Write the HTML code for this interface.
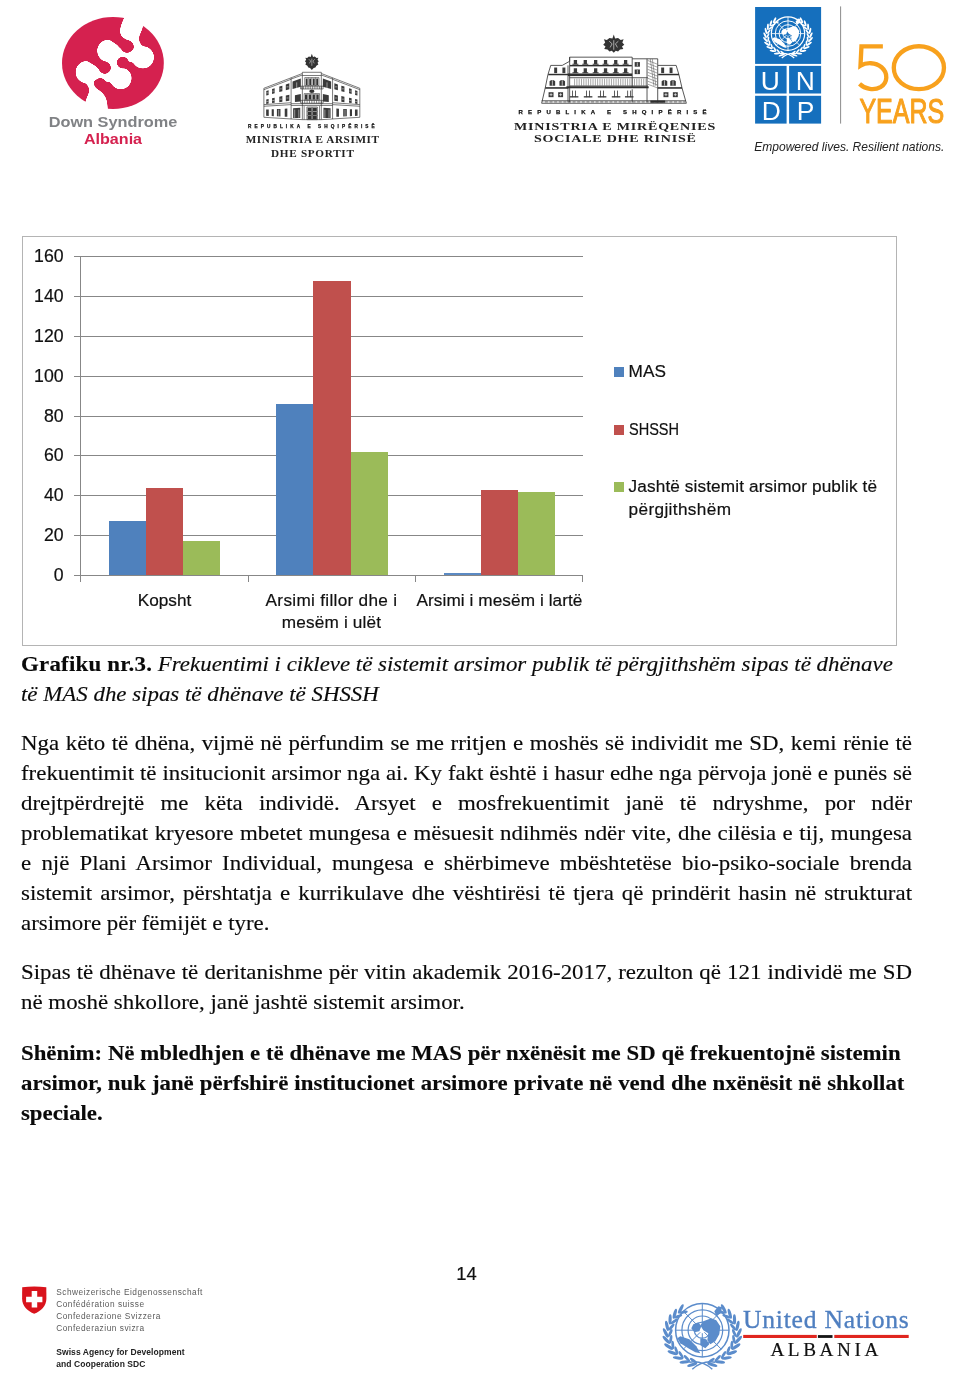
<!DOCTYPE html>
<html>
<head>
<meta charset="utf-8">
<title>Page 14</title>
<style>
html,body{margin:0;padding:0;background:#fff;}
body{will-change:transform;width:971px;height:1379px;position:relative;overflow:hidden;font-family:"Liberation Serif",serif;color:#000;}
.abs{position:absolute;}
/* body text lines */
.ln{position:absolute;left:21.2px;-webkit-text-stroke:0.15px #111;width:848.6px;height:30px;line-height:30px;font-size:21.8px;white-space:nowrap;text-align:justify;text-align-last:justify;color:#0a0a0a;transform:scaleX(1.05);transform-origin:0 0;}
.ln.last{text-align:left;text-align-last:left;}
.b{font-weight:bold;}
.ln.b{transform:scaleX(1.046);text-align:left;text-align-last:left;}
.i{font-style:italic;}
/* chart */
#chart{position:absolute;left:21.7px;top:235.6px;width:873.5px;height:408.7px;border:1px solid #b4b4b4;background:#fff;}
.grid{position:absolute;left:74px;width:509.4px;height:1.1px;background:#878787;}
.ylab{position:absolute;left:20px;width:43.6px;text-align:right;font-family:"Liberation Sans",sans-serif;font-size:17.7px;-webkit-text-stroke:0.2px #111;line-height:20px;height:20px;color:#111;}
.bar{position:absolute;}
.xlab{position:absolute;-webkit-text-stroke:0.2px #111;font-family:"Liberation Sans",sans-serif;font-size:17.2px;line-height:23px;text-align:center;color:#111;white-space:nowrap;}
.leg{position:absolute;-webkit-text-stroke:0.2px #111;font-family:"Liberation Sans",sans-serif;font-size:17.2px;line-height:23px;color:#111;white-space:nowrap;}
.sw{position:absolute;width:10.2px;height:10.2px;}
</style>
</head>
<body>

<!-- HEADER LOGOS -->
<!-- Down Syndrome Albania logo -->
<svg class="abs" style="left:55px;top:10px" width="115" height="105" viewBox="0 0 971 887">
  <defs>
    <filter id="goo" x="-5%" y="-5%" width="110%" height="110%" color-interpolation-filters="sRGB">
      <feGaussianBlur stdDeviation="11"/>
      <feColorMatrix type="matrix" values="0 0 0 0 1  0 0 0 0 1  0 0 0 0 1  0 0 0 7 -3"/>
    </filter>
    <mask id="dsm" maskUnits="userSpaceOnUse" x="0" y="0" width="971" height="887">
      <g fill="#fff" stroke="none">
        <circle cx="450" cy="345" r="94"/>
        <circle cx="742" cy="400" r="94"/>
        <circle cx="555" cy="577" r="92"/>
        <circle cx="268" cy="525" r="94"/>
        <path d="M612 0 C570 100 540 150 552 200 C562 240 610 250 650 275 C670 290 668 330 660 360 L780 330 C715 300 695 250 720 200 C735 170 742 150 744 125 L760 0 Z"/>
        <path d="M445 887 C448 800 440 760 420 725 C400 690 365 675 340 650 C320 620 325 590 330 560 L200 580 C265 610 300 650 285 700 C275 730 262 750 256 780 L230 887 Z"/>
      </g>
      <g stroke="#fff" stroke-width="110" stroke-linecap="round" fill="none">
        <path d="M742 395 L450 365"/>
        <path d="M462 350 L545 570"/>
        <path d="M555 565 L268 535"/>
      </g>
      <g fill="#000" stroke="#000" stroke-linecap="round">
        <circle cx="608" cy="308" r="54"/>
        <circle cx="572" cy="444" r="50"/>
        <circle cx="420" cy="488" r="52"/>
        <circle cx="382" cy="624" r="50"/>
        <path d="M608 308 L470 215" stroke-width="70"/>
        <path d="M572 444 L690 520" stroke-width="56"/>
        <path d="M420 488 L300 415" stroke-width="56"/>
        <path d="M382 624 L510 715" stroke-width="70"/>
      </g>
    </mask>
  </defs>
  <ellipse cx="489" cy="448" rx="430" ry="388" fill="#d5214f"/>
  <g filter="url(#goo)"><rect x="0" y="0" width="971" height="887" fill="#fff" mask="url(#dsm)"/></g>
</svg>
<div class="abs" style="left:32.8px;top:112.4px;width:160px;text-align:center;font-family:'Liberation Sans',sans-serif;font-weight:bold;font-size:14px;line-height:20px;color:#808285;white-space:nowrap;transform:scaleX(1.165)">Down Syndrome</div>
<div class="abs" style="left:33px;top:128.9px;width:160px;text-align:center;font-family:'Liberation Sans',sans-serif;font-weight:bold;font-size:14px;line-height:20px;color:#d5214f;white-space:nowrap;transform:scaleX(1.15)">Albania</div>

<!-- MAS logo -->
<!--MAS_SVG-->
<svg class="abs" style="left:255px;top:48px" width="115" height="77" viewBox="0 0 971 650">
<g fill="none" stroke="#333" stroke-width="5.5" stroke-linejoin="miter">
<path d="M75 340 L400 215 V205 H560 V215 L885 340 V585 L560 605 H400 L75 585 Z"/>
<path d="M305 252 V600 M400 215 V605 M560 215 V605 M655 252 V600"/>
<path d="M75 478 L305 462 M75 492 L305 478 M655 462 L885 478 M655 478 L885 492"/>
<path d="M75 352 L305 264 M655 264 L885 352"/>
<path d="M305 262 L400 228 M560 228 L655 262 M400 232 H560"/>
<path d="M305 470 H655 M305 485 H655"/>
</g>
<g fill="#3a3a3a" stroke="none">
<path d="M95 363 L115 356 L115 396 L95 401 Z"/>
<path d="M865 363 L845 356 L845 396 L865 401 Z"/>
<path d="M95 434 L115 430 L115 469 L95 472 Z"/>
<path d="M865 434 L845 430 L845 469 L865 472 Z"/>
<path d="M144 347 L166 339 L166 382 L144 388 Z"/>
<path d="M816 347 L794 339 L794 382 L816 388 Z"/>
<path d="M144 424 L166 419 L166 462 L144 465 Z"/>
<path d="M816 424 L794 419 L794 462 L816 465 Z"/>
<path d="M205 326 L231 318 L231 365 L205 372 Z"/>
<path d="M755 326 L729 318 L729 365 L755 372 Z"/>
<path d="M205 411 L231 406 L231 453 L205 457 Z"/>
<path d="M755 411 L729 406 L729 453 L755 457 Z"/>
<path d="M260 308 L290 298 L290 349 L260 357 Z"/>
<path d="M700 308 L670 298 L670 349 L700 357 Z"/>
<path d="M260 400 L290 394 L290 445 L260 449 Z"/>
<path d="M700 400 L670 394 L670 445 L700 449 Z"/>
<path d="M94 520 L116 519 L116 574 L94 573 Z"/>
<path d="M866 520 L844 519 L844 574 L866 573 Z"/>
<path d="M141 518 L159 517 L159 576 L141 575 Z"/>
<path d="M819 518 L801 517 L801 576 L819 575 Z"/>
<path d="M185 515 L215 514 L215 578 L185 577 Z"/>
<path d="M775 515 L745 514 L745 578 L775 577 Z"/>
<path d="M251 512 L273 511 L273 581 L251 580 Z"/>
<path d="M709 512 L687 511 L687 581 L709 580 Z"/>
<path d="M317 282 L387 258 L387 328 L317 346 Z"/>
<path d="M643 282 L573 258 L573 328 L643 346 Z"/>
<path d="M337 398 L387 389 L387 451 L337 456 Z"/>
<path d="M623 398 L573 389 L573 451 L623 456 Z"/>
<path d="M322 508 L382 505 L382 592 L322 590 Z"/>
<path d="M638 508 L578 505 L578 592 L638 590 Z"/>
</g>
<g stroke="#fff" stroke-width="4" fill="none">
<path d="M96 379 H114 M846 379 H864"/>
<path d="M96 451 H114 M846 451 H864"/>
<path d="M146 364 H164 M796 364 H814"/>
<path d="M146 443 H164 M796 443 H814"/>
<path d="M209 345 H227 M733 345 H751"/>
<path d="M209 432 H227 M733 432 H751"/>
<path d="M266 328 H284 M676 328 H694"/>
<path d="M266 422 H284 M676 422 H694"/>
<path d="M352 290 V340 M608 290 V340 M335 520 V590 M370 520 V590 M590 520 V590 M625 520 V590 M200 520 V580 M760 520 V580"/>
</g>
<g fill="none" stroke="#333" stroke-width="5">
<path d="M420 250 H540 V318 H420 Z M450 250 V318 M480 250 V318 M510 250 V318"/>
<path d="M385 322 H575 V346 H385 Z"/>
<path d="M395 322 V346 M410 322 V346 M425 322 V346 M440 322 V346 M455 322 V346 M470 322 V346 M485 322 V346 M500 322 V346 M515 322 V346 M530 322 V346 M545 322 V346 M560 322 V346"/>
<path d="M415 385 H545 V440 H415 Z M447 385 V440 M480 385 V440 M513 385 V440"/>
<path d="M385 442 H575 V466 H385 Z M400 442 V466 M420 442 V466 M440 442 V466 M460 442 V466 M480 442 V466 M500 442 V466 M520 442 V466 M540 442 V466 M560 442 V466"/>
<path d="M438 498 H527 V605 H438 Z M482 498 V605 M438 535 H527 M438 570 H527"/>
<path d="M415 490 V605 M545 490 V605"/>
</g>
<g fill="#333"><rect x="428" y="258" width="16" height="56"/><rect x="458" y="258" width="16" height="56"/><rect x="488" y="258" width="16" height="56"/><rect x="517" y="258" width="16" height="56"/>
<rect x="422" y="392" width="20" height="44"/><rect x="454" y="392" width="20" height="44"/><rect x="486" y="392" width="20" height="44"/><rect x="518" y="392" width="20" height="44"/>
<rect x="444" y="504" width="34" height="28"/><rect x="486" y="504" width="36" height="28"/><rect x="444" y="540" width="34" height="27"/><rect x="486" y="540" width="36" height="27"/><rect x="444" y="574" width="34" height="28"/><rect x="486" y="574" width="36" height="28"/>
<ellipse cx="480" cy="365" rx="22" ry="14"/>
</g>
<g fill="#333">
<path d="M480 48 L470 75 L455 72 L440 85 L425 82 L432 100 L422 112 L432 125 L425 140 L442 150 L450 165 L465 168 L480 185 L495 168 L510 165 L518 150 L535 140 L528 125 L538 112 L528 100 L535 82 L520 85 L505 72 L490 75 Z"/>
</g>
<g stroke="#fff" stroke-width="4" fill="none"><path d="M455 95 L470 110 L460 130 M505 95 L490 110 L500 130 M480 90 V150"/></g>
</svg>
<!--/MAS_SVG-->
<div class="abs" style="left:248px;top:121.5px;font-family:'Liberation Sans',sans-serif;font-weight:bold;font-size:4.7px;line-height:10px;letter-spacing:3.1px;color:#111;-webkit-text-stroke:0.25px #111;white-space:nowrap">REPUBLIKA E SHQIPËRISË</div>
<div class="abs" style="left:245.7px;top:131.4px;font-family:'Liberation Serif',serif;font-weight:bold;font-size:11.2px;line-height:16px;letter-spacing:0.6px;color:#222;white-space:nowrap">MINISTRIA E ARSIMIT</div>
<div class="abs" style="left:271px;top:144.6px;font-family:'Liberation Serif',serif;font-weight:bold;font-size:11.2px;line-height:16px;letter-spacing:0.71px;color:#222;white-space:nowrap">DHE SPORTIT</div>

<!-- MMSR logo -->
<!--MMSR_SVG-->
<svg class="abs" style="left:535px;top:30px" width="160" height="80" viewBox="0 0 971 486">
<g fill="none" stroke="#333" stroke-width="5">
<path d="M40 445 L62 350 L78 272 L95 215 L165 215 L210 190 V165 H590 V175 H745 V215 L857 215 L874 272 L892 350 L919 445 Z"/>
<path d="M210 165 V440 M590 175 V350 M680 175 V440 M745 215 V440 M200 215 V440 M590 360 V440"/>
<path d="M40 430 H915 M210 290 H685 M210 340 H685 M62 352 H200 M745 352 H892"/>
</g>
<g fill="#2e2e2e">
<rect x="212" y="212" width="376" height="9"/>
<rect x="200" y="264" width="390" height="16"/>
<rect x="80" y="266" width="122" height="9"/>
<rect x="748" y="266" width="126" height="9"/>
<rect x="190" y="342" width="500" height="12"/>
<rect x="62" y="348" width="140" height="8"/>
<rect x="745" y="348" width="148" height="8"/>
<rect x="700" y="428" width="90" height="14"/>
</g>
<g fill="#3a3a3a">
<path d="M235 182 H255 V208 H235 Z M227 205 H263 V211 H227 Z"/>
<path d="M235 232 H255 V258 H235 Z M227 256 H263 V263 H227 Z"/>
<path d="M295 182 H315 V208 H295 Z M287 205 H323 V211 H287 Z"/>
<path d="M295 232 H315 V258 H295 Z M287 256 H323 V263 H287 Z"/>
<path d="M358 182 H378 V208 H358 Z M350 205 H386 V211 H350 Z"/>
<path d="M358 232 H378 V258 H358 Z M350 256 H386 V263 H350 Z"/>
<path d="M418 182 H438 V208 H418 Z M410 205 H446 V211 H410 Z"/>
<path d="M418 232 H438 V258 H418 Z M410 256 H446 V263 H410 Z"/>
<path d="M480 182 H500 V208 H480 Z M472 205 H508 V211 H472 Z"/>
<path d="M480 232 H500 V258 H480 Z M472 256 H508 V263 H472 Z"/>
<path d="M540 182 H560 V208 H540 Z M532 205 H568 V211 H532 Z"/>
<path d="M540 232 H560 V258 H540 Z M532 256 H568 V263 H532 Z"/>
<path d="M116 228 H134 V262 H116 Z"/>
<path d="M166 228 H184 V262 H166 Z"/>
<path d="M766 228 H784 V262 H766 Z"/>
<path d="M817 228 H835 V262 H817 Z"/>
<path d="M88 338 V312 Q105 296 122 312 V338 Z"/>
<path d="M148 338 V312 Q165 296 182 312 V338 Z"/>
<path d="M769 338 V312 Q786 296 803 312 V338 Z"/>
<path d="M821 338 V312 Q838 296 855 312 V338 Z"/>
<rect x="82" y="378" width="30" height="30"/>
<rect x="140" y="378" width="30" height="30"/>
<rect x="780" y="378" width="30" height="30"/>
<rect x="837" y="378" width="30" height="30"/>
<rect x="605" y="195" width="32" height="28"/><rect x="605" y="240" width="32" height="28"/>
<rect x="225" y="368" width="5" height="40"/><rect x="243" y="368" width="5" height="40"/><rect x="211" y="402" width="52" height="8"/>
<rect x="310" y="368" width="5" height="40"/><rect x="328" y="368" width="5" height="40"/><rect x="296" y="402" width="52" height="8"/>
<rect x="395" y="368" width="5" height="40"/><rect x="413" y="368" width="5" height="40"/><rect x="381" y="402" width="52" height="8"/>
<rect x="480" y="368" width="5" height="40"/><rect x="498" y="368" width="5" height="40"/><rect x="466" y="402" width="52" height="8"/>
<rect x="560" y="368" width="5" height="40"/><rect x="578" y="368" width="5" height="40"/><rect x="546" y="402" width="52" height="8"/>
</g>
<g stroke="#fff" stroke-width="4" fill="none">
<path d="M105 305 V338"/>
<path d="M165 305 V338"/>
<path d="M786 305 V338"/>
<path d="M838 305 V338"/>
<path d="M97 384 V402 M88 393 H106"/>
<path d="M155 384 V402 M146 393 H164"/>
<path d="M795 384 V402 M786 393 H804"/>
<path d="M852 384 V402 M843 393 H861"/>
<path d="M621 198 V220 M621 243 V265"/>
</g>
<g stroke="#555" stroke-width="3.2" fill="none"><path d="
M240 296 V338 M254 296 V338 M268 296 V338 M282 296 V338 M296 296 V338 M310 296 V338 M324 296 V338 M338 296 V338 M352 296 V338 M366 296 V338 M380 296 V338 M394 296 V338 M408 296 V338 M422 296 V338 M436 296 V338 M450 296 V338 M464 296 V338 M478 296 V338 M492 296 V338 M506 296 V338 M520 296 V338 M534 296 V338 M548 296 V338 M562 296 V338 M576 296 V338 M590 296 V338 M604 296 V338 M618 296 V338 M632 296 V338 M646 296 V338 M660 296 V338 M674 296 V338"/>
<path d="M684 185 L741 207 M684 203 L741 225 M684 221 L741 243 M684 239 L741 261 M684 257 L741 279 M684 275 L741 297 M684 293 L741 315 M684 311 L741 333 M684 329 L741 351"/>
<path d="M700 175 L722 340 M712 175 L734 340"/></g>
<g stroke="#333" stroke-width="4"><path d="M60 437 H912" stroke-dasharray="18 10"/></g>
<g fill="#333"><path d="M478 28 L470 52 L452 48 L436 60 L418 56 L426 76 L414 90 L428 100 L420 116 L440 118 L452 130 L466 126 L478 138 L490 126 L504 130 L516 118 L536 116 L528 100 L542 90 L530 76 L538 56 L520 60 L504 48 L486 52 Z"/></g>
<g stroke="#fff" stroke-width="3.5" fill="none"><path d="M450 68 L468 84 L456 106 M506 68 L488 84 L500 106 M478 62 V120"/></g>
</svg>
<!--/MMSR_SVG-->
<div class="abs" style="left:518.5px;top:106.9px;font-family:'Liberation Sans',sans-serif;font-weight:bold;font-size:6px;line-height:10px;letter-spacing:5.2px;color:#111;-webkit-text-stroke:0.25px #111;white-space:nowrap">REPUBLIKA E SHQIPËRISË</div>
<div class="abs" style="left:514.2px;top:118px;font-family:'Liberation Serif',serif;font-weight:bold;font-size:10.8px;line-height:16px;letter-spacing:0.63px;color:#222;white-space:nowrap;transform:scaleX(1.3);transform-origin:0 0">MINISTRIA E MIRËQENIES</div>
<div class="abs" style="left:534.3px;top:129.9px;font-family:'Liberation Serif',serif;font-weight:bold;font-size:10.8px;line-height:16px;letter-spacing:0.58px;color:#222;white-space:nowrap;transform:scaleX(1.3);transform-origin:0 0">SOCIALE DHE RINISË</div>

<!-- UNDP logo -->
<!--UNDP_SVG-->
<svg class="abs" style="left:750px;top:0px" width="210" height="160" viewBox="0 0 210 160">
<rect x="5.1" y="7" width="66" height="56.9" fill="#156fbd"/>
<rect x="5.1" y="65.9" width="31.5" height="27.6" fill="#156fbd"/>
<rect x="39.1" y="65.9" width="32" height="27.6" fill="#156fbd"/>
<rect x="5.1" y="95.8" width="31.5" height="27.8" fill="#156fbd"/>
<rect x="39.1" y="95.8" width="32" height="27.8" fill="#156fbd"/>
<g fill="#fff" font-family="Liberation Sans, sans-serif" font-size="26.4" text-anchor="middle">
<text x="20.4" y="90.1">U</text><text x="55.4" y="90.1">N</text><text x="21.2" y="119.6">D</text><text x="55.6" y="119.6">P</text>
</g>
<g transform="translate(38.00 33.60) scale(0.6250)">
<g fill="none" stroke="#fff">
<circle cx="0" cy="0" r="26.7" stroke-width="1.95"/>
<circle cx="0" cy="0" r="20.4" stroke-width="1.56"/>
<circle cx="0" cy="0" r="14.2" stroke-width="1.56"/>
<circle cx="0" cy="0" r="8.0" stroke-width="1.56"/>
<path d="M3.0 0.0 L26.7 0.0 M2.1 2.1 L18.9 18.9 M0.0 3.0 L0.0 26.7 M-2.1 2.1 L-18.9 18.9 M-3.0 0.0 L-26.7 0.0 M-2.1 -2.1 L-18.9 -18.9 M-0.0 -3.0 L-0.0 -26.7 M2.1 -2.1 L18.9 -18.9" stroke-width="1.30"/>
</g>
<g fill="#fff">
<path d="M1 -9 l8 -3 l5 2 l4 6 l-1 8 l-4 7 l-5 3 l-3 -4 l1 -7 l-5 -3 l-3 -5 z"/>
<path d="M-22 6 l9 3 l7 7 l4 7 l-5 -1 l-7 -4 l-8 -5 l-3 -5 z"/>
<path d="M-9 -6 l5 -2 l3 4 l-2 5 l-5 1 l-3 -4 z"/>
<path d="M12 -19 l4 -5 l4 1 l-2 6 l-4 3 z"/>
<path d="M-2 8 l6 1 l3 5 l-4 4 l-5 -3 z"/>
</g>
<g fill="#fff">
<ellipse cx="-10.1" cy="34.5" rx="5.2" ry="1.6" transform="rotate(-196 -10.1 34.5)"/>
<ellipse cx="-8.8" cy="30.5" rx="4.3" ry="1.4" transform="rotate(-144 -8.8 30.5)"/>
<ellipse cx="-17.6" cy="31.8" rx="5.2" ry="1.6" transform="rotate(-185 -17.6 31.8)"/>
<ellipse cx="-15.4" cy="28.2" rx="4.3" ry="1.4" transform="rotate(-133 -15.4 28.2)"/>
<ellipse cx="-24.3" cy="27.8" rx="5.2" ry="1.6" transform="rotate(-173 -24.3 27.8)"/>
<ellipse cx="-21.2" cy="24.7" rx="4.3" ry="1.4" transform="rotate(-121 -21.2 24.7)"/>
<ellipse cx="-29.8" cy="22.5" rx="5.2" ry="1.6" transform="rotate(-160 -29.8 22.5)"/>
<ellipse cx="-26.0" cy="20.2" rx="4.3" ry="1.4" transform="rotate(-108 -26.0 20.2)"/>
<ellipse cx="-33.7" cy="16.4" rx="5.2" ry="1.6" transform="rotate(-146 -33.7 16.4)"/>
<ellipse cx="-29.5" cy="14.8" rx="4.3" ry="1.4" transform="rotate(-94 -29.5 14.8)"/>
<ellipse cx="-36.0" cy="9.7" rx="5.2" ry="1.6" transform="rotate(-132 -36.0 9.7)"/>
<ellipse cx="-31.5" cy="9.0" rx="4.3" ry="1.4" transform="rotate(-80 -31.5 9.0)"/>
<ellipse cx="-36.6" cy="2.7" rx="5.2" ry="1.6" transform="rotate(-117 -36.6 2.7)"/>
<ellipse cx="-32.0" cy="2.9" rx="4.3" ry="1.4" transform="rotate(-65 -32.0 2.9)"/>
<ellipse cx="-35.3" cy="-4.3" rx="5.2" ry="1.6" transform="rotate(-102 -35.3 -4.3)"/>
<ellipse cx="-30.8" cy="-3.2" rx="4.3" ry="1.4" transform="rotate(-50 -30.8 -3.2)"/>
<ellipse cx="-32.2" cy="-10.8" rx="5.2" ry="1.6" transform="rotate(-88 -32.2 -10.8)"/>
<ellipse cx="-28.1" cy="-8.8" rx="4.3" ry="1.4" transform="rotate(-36 -28.1 -8.8)"/>
<ellipse cx="-27.5" cy="-16.5" rx="5.2" ry="1.6" transform="rotate(-74 -27.5 -16.5)"/>
<ellipse cx="-24.1" cy="-13.8" rx="4.3" ry="1.4" transform="rotate(-22 -24.1 -13.8)"/>
<ellipse cx="-21.5" cy="-21.3" rx="5.2" ry="1.6" transform="rotate(-62 -21.5 -21.3)"/>
<ellipse cx="-18.8" cy="-18.0" rx="4.3" ry="1.4" transform="rotate(-10 -18.8 -18.0)"/>
<ellipse cx="10.1" cy="34.5" rx="5.2" ry="1.6" transform="rotate(16 10.1 34.5)"/>
<ellipse cx="8.8" cy="30.5" rx="4.3" ry="1.4" transform="rotate(-36 8.8 30.5)"/>
<ellipse cx="17.6" cy="31.8" rx="5.2" ry="1.6" transform="rotate(5 17.6 31.8)"/>
<ellipse cx="15.4" cy="28.2" rx="4.3" ry="1.4" transform="rotate(-47 15.4 28.2)"/>
<ellipse cx="24.3" cy="27.8" rx="5.2" ry="1.6" transform="rotate(-7 24.3 27.8)"/>
<ellipse cx="21.2" cy="24.7" rx="4.3" ry="1.4" transform="rotate(-59 21.2 24.7)"/>
<ellipse cx="29.8" cy="22.5" rx="5.2" ry="1.6" transform="rotate(-20 29.8 22.5)"/>
<ellipse cx="26.0" cy="20.2" rx="4.3" ry="1.4" transform="rotate(-72 26.0 20.2)"/>
<ellipse cx="33.7" cy="16.4" rx="5.2" ry="1.6" transform="rotate(-34 33.7 16.4)"/>
<ellipse cx="29.5" cy="14.8" rx="4.3" ry="1.4" transform="rotate(-86 29.5 14.8)"/>
<ellipse cx="36.0" cy="9.7" rx="5.2" ry="1.6" transform="rotate(-48 36.0 9.7)"/>
<ellipse cx="31.5" cy="9.0" rx="4.3" ry="1.4" transform="rotate(-100 31.5 9.0)"/>
<ellipse cx="36.6" cy="2.7" rx="5.2" ry="1.6" transform="rotate(-63 36.6 2.7)"/>
<ellipse cx="32.0" cy="2.9" rx="4.3" ry="1.4" transform="rotate(-115 32.0 2.9)"/>
<ellipse cx="35.3" cy="-4.3" rx="5.2" ry="1.6" transform="rotate(-78 35.3 -4.3)"/>
<ellipse cx="30.8" cy="-3.2" rx="4.3" ry="1.4" transform="rotate(-130 30.8 -3.2)"/>
<ellipse cx="32.2" cy="-10.8" rx="5.2" ry="1.6" transform="rotate(-92 32.2 -10.8)"/>
<ellipse cx="28.1" cy="-8.8" rx="4.3" ry="1.4" transform="rotate(-144 28.1 -8.8)"/>
<ellipse cx="27.5" cy="-16.5" rx="5.2" ry="1.6" transform="rotate(-106 27.5 -16.5)"/>
<ellipse cx="24.1" cy="-13.8" rx="4.3" ry="1.4" transform="rotate(-158 24.1 -13.8)"/>
<ellipse cx="21.5" cy="-21.3" rx="5.2" ry="1.6" transform="rotate(-118 21.5 -21.3)"/>
<ellipse cx="18.8" cy="-18.0" rx="4.3" ry="1.4" transform="rotate(-170 18.8 -18.0)"/>
</g>
<g fill="none" stroke="#fff" stroke-width="1.95"><path d="M-13 32 Q0 30 10 39 M13 32 Q0 30 -10 39"/></g>
</g>
<rect x="90.1" y="6.4" width="1" height="117.2" fill="#8c8c8c"/>
<g transform="translate(100,35) scale(0.10813)" fill="none" stroke="#f8a11d" stroke-width="40" stroke-linejoin="miter">
<path d="M304 105 H106 L97 284 C150 252 235 250 292 298 C352 350 352 440 282 482 C222 516 140 502 88 452"/>
<ellipse cx="637" cy="302" rx="232" ry="198"/>
</g>
<text x="0" y="0" transform="translate(109.4,122.6) scale(0.728,1)" font-family="Liberation Sans, sans-serif" font-size="34.4" fill="#f8a11d" stroke="#f8a11d" stroke-width="1.1" stroke-linejoin="round">YEARS</text>
<text x="4.2" y="151.4" font-family="Liberation Sans, sans-serif" font-style="italic" font-size="12.05" fill="#222">Empowered lives. Resilient nations.</text>
</svg>
<!--/UNDP_SVG-->

<!-- CHART -->
<div id="chart"></div>
<!-- gridlines (page coords) -->
<div class="grid" style="top:256.4px"></div>
<div class="grid" style="top:296.2px"></div>
<div class="grid" style="top:335.9px"></div>
<div class="grid" style="top:375.7px"></div>
<div class="grid" style="top:415.5px"></div>
<div class="grid" style="top:455.2px"></div>
<div class="grid" style="top:495.0px"></div>
<div class="grid" style="top:534.7px"></div>
<div class="grid" style="top:574.5px"></div>
<!-- y axis -->
<div class="abs" style="left:80.3px;top:256.4px;width:1.1px;height:325.6px;background:#878787"></div>
<!-- x ticks -->
<div class="abs" style="left:247.7px;top:575px;width:1.1px;height:7px;background:#878787"></div>
<div class="abs" style="left:415.3px;top:575px;width:1.1px;height:7px;background:#878787"></div>
<div class="abs" style="left:582.3px;top:575px;width:1.1px;height:7px;background:#878787"></div>
<!-- y labels -->
<div class="ylab" style="top:246px">160</div>
<div class="ylab" style="top:286px">140</div>
<div class="ylab" style="top:326px">120</div>
<div class="ylab" style="top:366px">100</div>
<div class="ylab" style="top:406px">80</div>
<div class="ylab" style="top:445px">60</div>
<div class="ylab" style="top:485px">40</div>
<div class="ylab" style="top:525px">20</div>
<div class="ylab" style="top:565px">0</div>
<!-- bars -->
<div class="bar" style="left:108.7px;top:521.4px;width:37.1px;height:53.6px;background:#4f81bd"></div>
<div class="bar" style="left:145.8px;top:487.6px;width:37.1px;height:87.4px;background:#c0504d"></div>
<div class="bar" style="left:182.9px;top:541.2px;width:37.1px;height:33.8px;background:#9bbb59"></div>

<div class="bar" style="left:276.2px;top:404px;width:37.2px;height:171px;background:#4f81bd"></div>
<div class="bar" style="left:313.4px;top:280.8px;width:37.3px;height:294.2px;background:#c0504d"></div>
<div class="bar" style="left:350.7px;top:451.8px;width:37.2px;height:123.2px;background:#9bbb59"></div>

<div class="bar" style="left:444.3px;top:573.4px;width:36.6px;height:1.6px;background:#5b8ac3"></div>
<div class="bar" style="left:480.8px;top:489.6px;width:37px;height:85.4px;background:#c0504d"></div>
<div class="bar" style="left:517.8px;top:491.6px;width:37.1px;height:83.4px;background:#9bbb59"></div>
<!-- x labels -->
<div class="xlab" style="left:81px;width:167px;top:589px">Kopsht</div>
<div class="xlab" style="left:248px;width:167px;top:589px;letter-spacing:0.3px">Arsimi fillor dhe i</div>
<div class="xlab" style="left:248px;width:167px;top:611.3px;letter-spacing:0.18px">mesëm i ulët</div>
<div class="xlab" style="left:416px;width:167px;top:589px;letter-spacing:0.08px">Arsimi i mesëm i lartë</div>
<!-- legend -->
<div class="sw" style="left:613.5px;top:367.1px;background:#4f81bd"></div>
<div class="leg" style="left:628.6px;top:360.4px">MAS</div>
<div class="sw" style="left:613.5px;top:424.7px;background:#c0504d"></div>
<div class="leg" style="left:628.6px;top:417.6px;transform:scaleX(0.845);transform-origin:0 0">SHSSH</div>
<div class="sw" style="left:613.5px;top:481.8px;background:#9bbb59"></div>
<div class="leg" style="left:628.6px;top:475px;letter-spacing:0.12px">Jashtë sistemit arsimor publik të</div>
<div class="leg" style="left:628.6px;top:498px;letter-spacing:0.36px">përgjithshëm</div>

<!-- CAPTION -->
<div class="ln last" style="top:648.5px"><span class="b" style="letter-spacing:0.21px">Grafiku nr.3.</span> <span class="i">Frekuentimi i cikleve të sistemit arsimor publik të përgjithshëm sipas të dhënave</span></div>
<div class="ln last i" style="top:678.9px">të MAS dhe sipas të dhënave të SHSSH</div>

<!-- PARAGRAPH 1 -->
<div class="ln" style="top:727.5px">Nga këto të dhëna, vijmë në përfundim se me rritjen e moshës së individit me SD, kemi rënie të</div>
<div class="ln" style="top:757.6px">frekuentimit të insitucionit arsimor nga ai. Ky fakt është i hasur edhe nga përvoja jonë e punës së</div>
<div class="ln" style="top:787.8px">drejtpërdrejtë me këta individë. Arsyet e mosfrekuentimit janë të ndryshme, por ndër</div>
<div class="ln" style="top:817.9px">problematikat kryesore mbetet mungesa e mësuesit ndihmës ndër vite, dhe cilësia e tij, mungesa</div>
<div class="ln" style="top:848.1px">e një Plani Arsimor Individual, mungesa e shërbimeve mbështetëse bio-psiko-sociale brenda</div>
<div class="ln" style="top:878.2px">sistemit arsimor, përshtatja e kurrikulave dhe vështirësi të tjera që prindërit hasin në strukturat</div>
<div class="ln last" style="top:908.3px">arsimore për fëmijët e tyre.</div>

<!-- PARAGRAPH 2 -->
<div class="ln" style="top:957.3px">Sipas të dhënave të deritanishme për vitin akademik 2016-2017, rezulton që 121 individë me SD</div>
<div class="ln last" style="top:987.4px">në moshë shkollore, janë jashtë sistemit arsimor.</div>

<!-- PARAGRAPH 3 -->
<div class="ln b" style="top:1038.0px;word-spacing:0.1px">Shënim: Në mbledhjen e të dhënave me MAS për nxënësit me SD që frekuentojnë sistemin</div>
<div class="ln b" style="top:1067.8px;word-spacing:0.3px">arsimor, nuk janë përfshirë institucionet arsimore private në vend dhe nxënësit në shkollat</div>
<div class="ln last b" style="top:1097.9px">speciale.</div>

<!-- PAGE NUMBER -->
<div class="abs" style="left:436.5px;width:60px;top:1263.2px;text-align:center;font-family:'Liberation Sans',sans-serif;font-size:18.4px;line-height:22px;color:#111;-webkit-text-stroke:0.2px #111">14</div>

<!-- FOOTER LOGOS -->
<!--FTR-->
<svg class="abs" style="left:18px;top:1284px" width="34" height="34" viewBox="0 0 34 34">
<path d="M4.2 3.2 Q16.2 1.9 28.3 3.2 L28.4 14.5 C28.4 22 23 27 16.2 29.8 C9.5 27 4.1 22 4.1 14.5 Z" fill="#d9131c"/>
<path d="M13.7 6.9 H19.2 V12.7 H24.4 V18.2 H19.2 V23.4 H13.7 V18.2 H8.1 V12.7 H13.7 Z" fill="#fff"/>
</svg>
<div class="abs" style="left:56.2px;top:1285.9px;font-family:'Liberation Sans',sans-serif;font-size:8.3px;line-height:12px;letter-spacing:0.52px;color:#5a5a5a;white-space:nowrap">Schweizerische Eidgenossenschaft</div>
<div class="abs" style="left:56.2px;top:1297.7px;font-family:'Liberation Sans',sans-serif;font-size:8.3px;line-height:12px;letter-spacing:0.52px;color:#5a5a5a;white-space:nowrap">Confédération suisse</div>
<div class="abs" style="left:56.2px;top:1309.7px;font-family:'Liberation Sans',sans-serif;font-size:8.3px;line-height:12px;letter-spacing:0.52px;color:#5a5a5a;white-space:nowrap">Confederazione Svizzera</div>
<div class="abs" style="left:56.2px;top:1321.5px;font-family:'Liberation Sans',sans-serif;font-size:8.3px;line-height:12px;letter-spacing:0.52px;color:#5a5a5a;white-space:nowrap">Confederaziun svizra</div>
<div class="abs" style="left:56.2px;top:1346.0px;font-family:'Liberation Sans',sans-serif;font-weight:bold;font-size:8.5px;line-height:12px;letter-spacing:0.08px;color:#222;white-space:nowrap">Swiss Agency for Development</div>
<div class="abs" style="left:56.2px;top:1357.5px;font-family:'Liberation Sans',sans-serif;font-weight:bold;font-size:8.5px;line-height:12px;letter-spacing:0.08px;color:#222;white-space:nowrap">and Cooperation SDC</div>
<svg class="abs" style="left:655px;top:1290px" width="270" height="89" viewBox="0 0 270 89">
<g transform="translate(47.30 40.20) scale(1.0000)">
<g fill="none" stroke="#5b8ccb">
<circle cx="0" cy="0" r="26.7" stroke-width="1.50"/>
<circle cx="0" cy="0" r="20.4" stroke-width="1.20"/>
<circle cx="0" cy="0" r="14.2" stroke-width="1.20"/>
<circle cx="0" cy="0" r="8.0" stroke-width="1.20"/>
<path d="M3.0 0.0 L26.7 0.0 M2.1 2.1 L18.9 18.9 M0.0 3.0 L0.0 26.7 M-2.1 2.1 L-18.9 18.9 M-3.0 0.0 L-26.7 0.0 M-2.1 -2.1 L-18.9 -18.9 M-0.0 -3.0 L-0.0 -26.7 M2.1 -2.1 L18.9 -18.9" stroke-width="1.00"/>
</g>
<g fill="#5b8ccb">
<path d="M1 -9 l8 -3 l5 2 l4 6 l-1 8 l-4 7 l-5 3 l-3 -4 l1 -7 l-5 -3 l-3 -5 z"/>
<path d="M-22 6 l9 3 l7 7 l4 7 l-5 -1 l-7 -4 l-8 -5 l-3 -5 z"/>
<path d="M-9 -6 l5 -2 l3 4 l-2 5 l-5 1 l-3 -4 z"/>
<path d="M12 -19 l4 -5 l4 1 l-2 6 l-4 3 z"/>
<path d="M-2 8 l6 1 l3 5 l-4 4 l-5 -3 z"/>
</g>
<g fill="#5b8ccb">
<ellipse cx="-10.1" cy="34.5" rx="5.2" ry="1.6" transform="rotate(-196 -10.1 34.5)"/>
<ellipse cx="-8.8" cy="30.5" rx="4.3" ry="1.4" transform="rotate(-144 -8.8 30.5)"/>
<ellipse cx="-17.6" cy="31.8" rx="5.2" ry="1.6" transform="rotate(-185 -17.6 31.8)"/>
<ellipse cx="-15.4" cy="28.2" rx="4.3" ry="1.4" transform="rotate(-133 -15.4 28.2)"/>
<ellipse cx="-24.3" cy="27.8" rx="5.2" ry="1.6" transform="rotate(-173 -24.3 27.8)"/>
<ellipse cx="-21.2" cy="24.7" rx="4.3" ry="1.4" transform="rotate(-121 -21.2 24.7)"/>
<ellipse cx="-29.8" cy="22.5" rx="5.2" ry="1.6" transform="rotate(-160 -29.8 22.5)"/>
<ellipse cx="-26.0" cy="20.2" rx="4.3" ry="1.4" transform="rotate(-108 -26.0 20.2)"/>
<ellipse cx="-33.7" cy="16.4" rx="5.2" ry="1.6" transform="rotate(-146 -33.7 16.4)"/>
<ellipse cx="-29.5" cy="14.8" rx="4.3" ry="1.4" transform="rotate(-94 -29.5 14.8)"/>
<ellipse cx="-36.0" cy="9.7" rx="5.2" ry="1.6" transform="rotate(-132 -36.0 9.7)"/>
<ellipse cx="-31.5" cy="9.0" rx="4.3" ry="1.4" transform="rotate(-80 -31.5 9.0)"/>
<ellipse cx="-36.6" cy="2.7" rx="5.2" ry="1.6" transform="rotate(-117 -36.6 2.7)"/>
<ellipse cx="-32.0" cy="2.9" rx="4.3" ry="1.4" transform="rotate(-65 -32.0 2.9)"/>
<ellipse cx="-35.3" cy="-4.3" rx="5.2" ry="1.6" transform="rotate(-102 -35.3 -4.3)"/>
<ellipse cx="-30.8" cy="-3.2" rx="4.3" ry="1.4" transform="rotate(-50 -30.8 -3.2)"/>
<ellipse cx="-32.2" cy="-10.8" rx="5.2" ry="1.6" transform="rotate(-88 -32.2 -10.8)"/>
<ellipse cx="-28.1" cy="-8.8" rx="4.3" ry="1.4" transform="rotate(-36 -28.1 -8.8)"/>
<ellipse cx="-27.5" cy="-16.5" rx="5.2" ry="1.6" transform="rotate(-74 -27.5 -16.5)"/>
<ellipse cx="-24.1" cy="-13.8" rx="4.3" ry="1.4" transform="rotate(-22 -24.1 -13.8)"/>
<ellipse cx="-21.5" cy="-21.3" rx="5.2" ry="1.6" transform="rotate(-62 -21.5 -21.3)"/>
<ellipse cx="-18.8" cy="-18.0" rx="4.3" ry="1.4" transform="rotate(-10 -18.8 -18.0)"/>
<ellipse cx="10.1" cy="34.5" rx="5.2" ry="1.6" transform="rotate(16 10.1 34.5)"/>
<ellipse cx="8.8" cy="30.5" rx="4.3" ry="1.4" transform="rotate(-36 8.8 30.5)"/>
<ellipse cx="17.6" cy="31.8" rx="5.2" ry="1.6" transform="rotate(5 17.6 31.8)"/>
<ellipse cx="15.4" cy="28.2" rx="4.3" ry="1.4" transform="rotate(-47 15.4 28.2)"/>
<ellipse cx="24.3" cy="27.8" rx="5.2" ry="1.6" transform="rotate(-7 24.3 27.8)"/>
<ellipse cx="21.2" cy="24.7" rx="4.3" ry="1.4" transform="rotate(-59 21.2 24.7)"/>
<ellipse cx="29.8" cy="22.5" rx="5.2" ry="1.6" transform="rotate(-20 29.8 22.5)"/>
<ellipse cx="26.0" cy="20.2" rx="4.3" ry="1.4" transform="rotate(-72 26.0 20.2)"/>
<ellipse cx="33.7" cy="16.4" rx="5.2" ry="1.6" transform="rotate(-34 33.7 16.4)"/>
<ellipse cx="29.5" cy="14.8" rx="4.3" ry="1.4" transform="rotate(-86 29.5 14.8)"/>
<ellipse cx="36.0" cy="9.7" rx="5.2" ry="1.6" transform="rotate(-48 36.0 9.7)"/>
<ellipse cx="31.5" cy="9.0" rx="4.3" ry="1.4" transform="rotate(-100 31.5 9.0)"/>
<ellipse cx="36.6" cy="2.7" rx="5.2" ry="1.6" transform="rotate(-63 36.6 2.7)"/>
<ellipse cx="32.0" cy="2.9" rx="4.3" ry="1.4" transform="rotate(-115 32.0 2.9)"/>
<ellipse cx="35.3" cy="-4.3" rx="5.2" ry="1.6" transform="rotate(-78 35.3 -4.3)"/>
<ellipse cx="30.8" cy="-3.2" rx="4.3" ry="1.4" transform="rotate(-130 30.8 -3.2)"/>
<ellipse cx="32.2" cy="-10.8" rx="5.2" ry="1.6" transform="rotate(-92 32.2 -10.8)"/>
<ellipse cx="28.1" cy="-8.8" rx="4.3" ry="1.4" transform="rotate(-144 28.1 -8.8)"/>
<ellipse cx="27.5" cy="-16.5" rx="5.2" ry="1.6" transform="rotate(-106 27.5 -16.5)"/>
<ellipse cx="24.1" cy="-13.8" rx="4.3" ry="1.4" transform="rotate(-158 24.1 -13.8)"/>
<ellipse cx="21.5" cy="-21.3" rx="5.2" ry="1.6" transform="rotate(-118 21.5 -21.3)"/>
<ellipse cx="18.8" cy="-18.0" rx="4.3" ry="1.4" transform="rotate(-170 18.8 -18.0)"/>
</g>
<g fill="none" stroke="#5b8ccb" stroke-width="1.50"><path d="M-13 32 Q0 30 10 39 M13 32 Q0 30 -10 39"/></g>
</g>
<text x="88.0" y="38.4" font-family="Liberation Serif, serif" font-size="25.6" letter-spacing="0.78" fill="#4f7fc0" stroke="#4f7fc0" stroke-width="0.35">United Nations</text>
<rect x="88.2" y="44.9" width="73.6" height="3.1" fill="#e0261f"/>
<rect x="179.3" y="44.9" width="74.4" height="3.1" fill="#e0261f"/>
<rect x="162.9" y="45.1" width="14.6" height="2.8" fill="#151515"/>
<text x="115.4" y="66.1" font-family="Liberation Serif, serif" font-size="19.2" letter-spacing="3.6" fill="#111" stroke="#111" stroke-width="0.2">ALBANIA</text>
</svg>
<!--/FTR-->

</body>
</html>
